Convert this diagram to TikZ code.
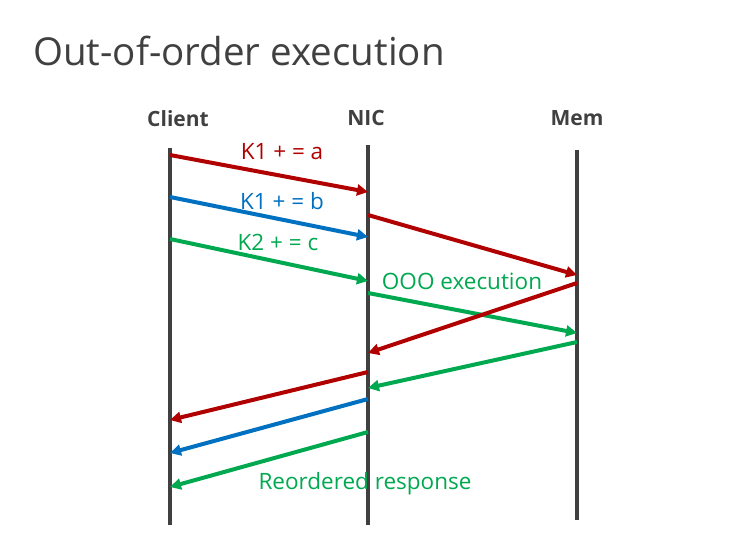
\documentclass[tikz,border=0pt]{standalone}
\usepackage{fontspec}
\setmainfont{Open Sans}
\usetikzlibrary{arrows.meta}
\definecolor{cred}{HTML}{B00000}
\definecolor{cblue}{HTML}{0070C0}
\definecolor{cgreen}{HTML}{00A850}
\definecolor{cgray}{HTML}{404040}
\begin{document}
\begin{tikzpicture}[x=1pt,y=-1pt,
  life/.style={draw=cgray,line width=4.8pt},
  msg/.style={line width=4pt,-{Triangle[length=11pt,width=11pt]}},
  head/.style={font=\fontsize{21}{24}\selectfont\bfseries,text=cgray},
  lbl/.style={font=\fontsize{22.5}{26}\selectfont}]
\useasboundingbox (0,0) rectangle (734,551);
\node[font=\fontsize{38.5}{46}\selectfont,text=cgray,anchor=west,inner sep=0pt] (title) at (33,51) {Out-of-order execution};
\node[head] (hc) at (178,119) {Client};
\node[head] (hn) at (366,118) {NIC};
\node[head] (hm) at (577,118) {Mem};
\coordinate (ct) at (170,148); \coordinate (cb) at (170,525);
\coordinate (nt) at (368,145); \coordinate (nb) at (368,525);
\coordinate (mt) at (577,150); \coordinate (mb) at (577,520);
\draw[life] (ct) -- (cb);
\draw[life] (nt) -- (nb);
\draw[life] (mt) -- (mb);
% requests
\coordinate (c1) at (170,155); \coordinate (n1) at (368,192);
\coordinate (c2) at (170,197); \coordinate (n2) at (368,237);
\coordinate (c3) at (170,239); \coordinate (n3) at (368,281);
\draw[msg,cred] (c1) -- (n1);
\draw[msg,cblue] (c2) -- (n2);
\draw[msg,cgreen] (c3) -- (n3);
\node[lbl,text=cred] (la) at (282,152) {K1 + = a};
\node[lbl,text=cblue] (lb) at (282,201) {K1 + = b};
\node[lbl,text=cgreen] (lc) at (278,242) {K2 + = c};
% NIC <-> Mem
\coordinate (n4) at (368,215); \coordinate (m4) at (577,275);
\coordinate (n5) at (368,293); \coordinate (m5) at (577,333);
\coordinate (m6) at (577,283); \coordinate (n6) at (368,353);
\coordinate (m7) at (577,342); \coordinate (n7) at (368,388);
\draw[msg,cred] (n4) -- (m4);
\draw[msg,cgreen] (n5) -- (m5);
\draw[msg,cred] (m6) -- (n6);
\draw[msg,cgreen] (m7) -- (n7);
\node[lbl,text=cgreen] (ooo) at (462,281) {OOO execution};
% responses
\coordinate (n8) at (368,372); \coordinate (c8) at (170,420);
\coordinate (n9) at (368,399); \coordinate (c9) at (170,453);
\coordinate (n10) at (368,432); \coordinate (c10) at (170,487);
\draw[msg,cred] (n8) -- (c8);
\draw[msg,cblue] (n9) -- (c9);
\draw[msg,cgreen] (n10) -- (c10);
\node[lbl,text=cgreen] (rr) at (365,484) {Reordered response};
\end{tikzpicture}
\end{document}
